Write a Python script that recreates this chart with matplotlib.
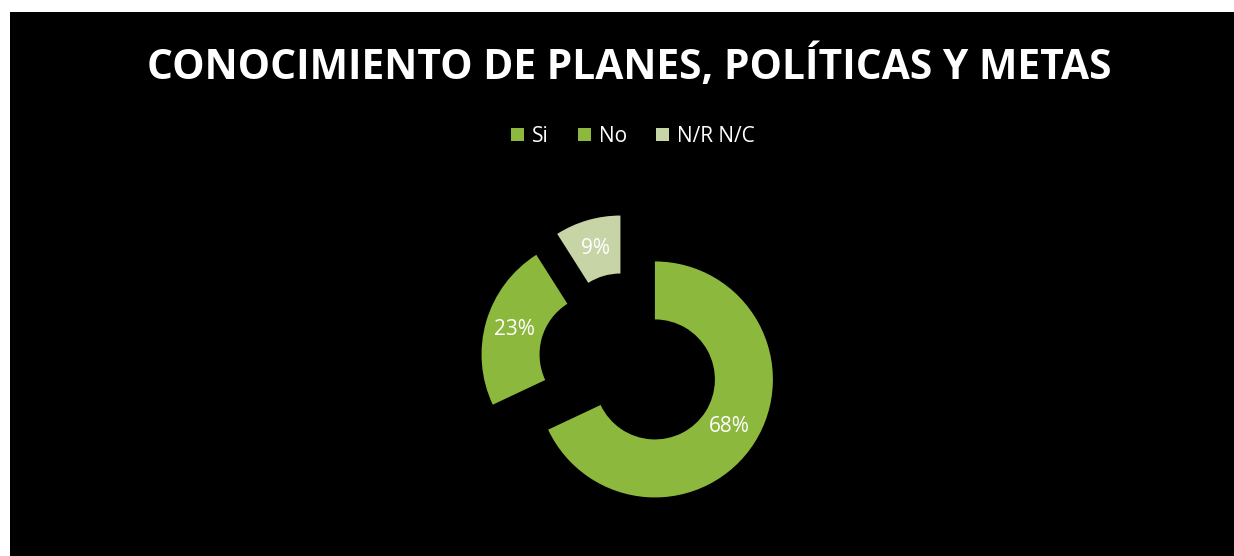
import matplotlib.pyplot as plt

labels = ['Si', 'No', 'N/R N/C']
values = [68, 23, 9]
colors = ['#8db83e', '#8db83e', '#c6d4a6']

W, H = 1234, 556
fig = plt.figure(figsize=(W / 100, H / 100), dpi=100)
fig.patch.set_facecolor('white')

# black panel (white strip on top and left like the screenshot)
bg = fig.add_axes([10 / W, 0, 1 - 10 / W, 1 - 12 / H])
bg.set_facecolor('black')
bg.set_xticks([])
bg.set_yticks([])
for s in bg.spines.values():
    s.set_visible(False)

# axes in pixel units so the donut lands where it should
ax = fig.add_axes([0, 0, 1, 1])
ax.axis('off')

R = 118
# explode is in data units here, not a fraction of the radius
wedges, texts, autotexts = ax.pie(
    values, colors=colors, startangle=90, counterclock=False,
    explode=[0.26 * R] * 3, radius=R, center=(629, H - 363),
    autopct='%1.0f%%', pctdistance=0.75,
    wedgeprops=dict(width=58, linewidth=0),
    textprops=dict(color='white', fontsize=15, family='Open Sans'),
)
ax.set_xlim(0, W)
ax.set_ylim(0, H)
ax.set_aspect('equal')

fig.text(0.51, 1 - 67 / H, 'CONOCIMIENTO DE PLANES, POLÍTICAS Y METAS',
         ha='center', va='center', color='white', fontsize=29.3,
         fontweight='bold', family='Open Sans')

leg = fig.legend(wedges, labels, loc='center', bbox_to_anchor=(0.513, 1 - 136 / H),
                 ncol=3, frameon=False, handlelength=0.6, handleheight=0.6,
                 handletextpad=0.4, columnspacing=1.4,
                 prop=dict(family='Open Sans', size=15))
for t in leg.get_texts():
    t.set_color('white')

fig.savefig('out.png', dpi=100, facecolor=fig.get_facecolor())
